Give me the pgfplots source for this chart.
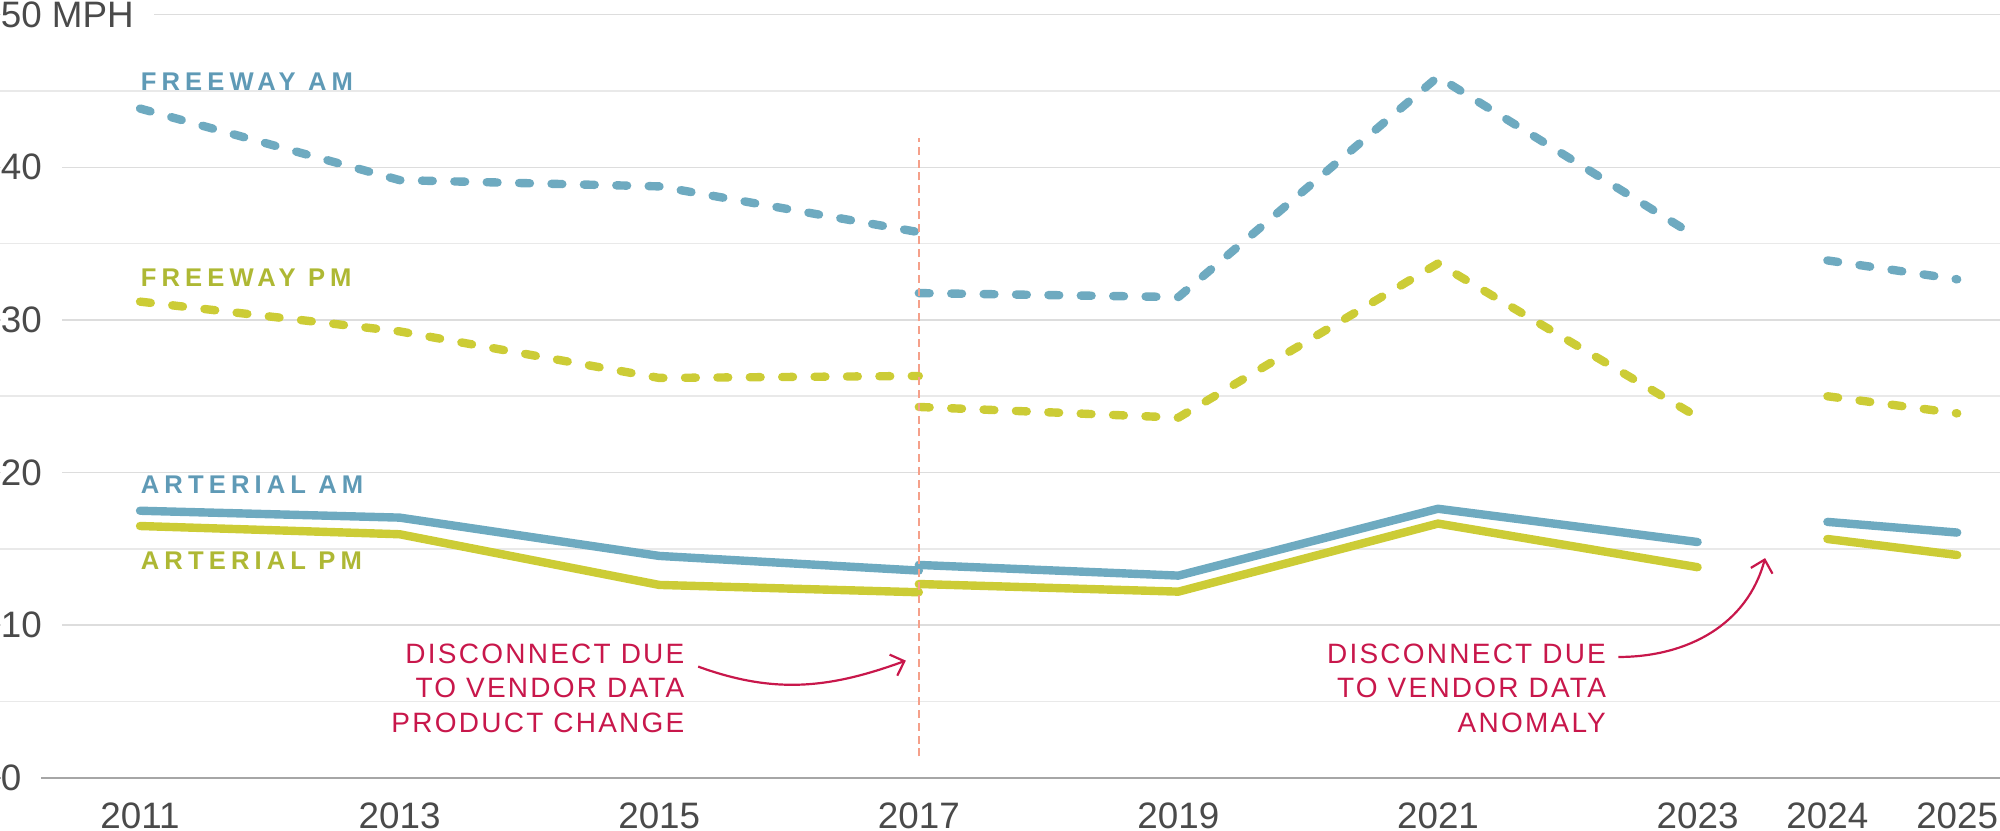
\documentclass[border=0pt]{standalone}
\usepackage{fontspec}
\setmainfont{Liberation Sans}
\newfontfamily\lblfont[LetterSpace=20]{Liberation Sans}
\newfontfamily\annfont[LetterSpace=8]{Liberation Sans}
\usepackage{pgfplots}
\pgfplotsset{compat=1.18}
\usetikzlibrary{arrows.meta}

\definecolor{lblue}{HTML}{6EAAC0}
\definecolor{lgreen}{HTML}{CCCC36}
\definecolor{tblue}{HTML}{5F9AB6}
\definecolor{tgreen}{HTML}{AEB834}
\definecolor{annred}{HTML}{C8174B}
\definecolor{vsalmon}{HTML}{F5A08A}
\definecolor{ticktext}{HTML}{4A4A4A}
\definecolor{gridmajor}{HTML}{DDDDDD}
\definecolor{gridminor}{HTML}{E9E9E9}
\definecolor{axisgray}{HTML}{A6A6A6}

\begin{document}
\begin{tikzpicture}
\begin{axis}[
    name=ax,
    scale only axis,
    width=500pt, height=190.8pt,
    xmin=2009.921, xmax=2025.33,
    ymin=0, ymax=50,
    clip=false,
    axis line style={draw=none},
    tick style={draw=none},
    xtick={2011,2013,2015,2017,2019,2021,2023,2024,2025},
    xticklabels={2011,2013,2015,2017,2019,2021,2023,2024,2025},
    ytick={10,20,30,40,50},
    yticklabels={10\hspace*{5pt},20\hspace*{5pt},30\hspace*{5pt},40\hspace*{5pt},50 MPH\hspace*{5pt}},
    extra y ticks={0},
    extra y tick labels={0\hspace*{5pt}},
    extra y tick style={grid=major, major grid style={draw=axisgray, line width=0.5pt}},
    minor ytick={5,15,25,35,45},
    ymajorgrids, yminorgrids,
    major grid style={draw=gridmajor, line width=0.4pt},
    minor grid style={draw=gridminor, line width=0.4pt},
    ticklabel style={font=\fontsize{9.2}{11}\selectfont, text=ticktext},
    yticklabel style={anchor=west, inner xsep=0pt, inner ysep=1.5pt, fill=white},
    xticklabel style={yshift=-2.6pt},
    every axis plot/.append style={line cap=round, line join=round, unbounded coords=jump},
]
% freeway, dashed
\addplot[lblue, line width=2.1pt, dash pattern=on 2.7pt off 5.4pt] coordinates {
    (2011,43.85) (2013,39.16) (2015,38.75) (2017,35.75) (2017,nan)
    (2017,31.76) (2019,31.5) (2021,45.93) (2023,35.4) (2023,nan)
    (2024,33.9) (2025,32.66)};
\addplot[lgreen, line width=2.1pt, dash pattern=on 2.7pt off 5.4pt] coordinates {
    (2011,31.2) (2013,29.25) (2015,26.2) (2017,26.33) (2017,nan)
    (2017,24.3) (2019,23.6) (2021,33.7) (2023,23.64) (2023,nan)
    (2024,25.0) (2025,23.88)};
% arterial, solid
\addplot[lgreen, line width=2.1pt] coordinates {
    (2011,16.5) (2013,15.96) (2015,12.64) (2017,12.16) (2017,nan)
    (2017,12.7) (2019,12.2) (2021,16.66) (2023,13.8) (2023,nan)
    (2024,15.65) (2025,14.6)};
\addplot[lblue, line width=2.1pt] coordinates {
    (2011,17.5) (2013,17.05) (2015,14.54) (2017,13.58) (2017,nan)
    (2017,13.95) (2019,13.25) (2021,17.63) (2023,15.45) (2023,nan)
    (2024,16.77) (2025,16.07)};
% vendor product change marker
\addplot[vsalmon, line width=0.35pt, dash pattern=on 2pt off 1.2pt, line cap=butt] coordinates {(2017,1.4) (2017,41.9)};

% series labels
\node[anchor=base west, inner sep=0pt, text=tblue, font=\lblfont\bfseries\fontsize{6.4}{7}\selectfont] at (axis cs:2011,45.05) {FREEWAY AM};
\node[anchor=base west, inner sep=0pt, text=tgreen, font=\lblfont\bfseries\fontsize{6.4}{7}\selectfont] at (axis cs:2011,32.2) {FREEWAY PM};
\node[anchor=base west, inner sep=0pt, text=tblue, font=\lblfont\bfseries\fontsize{6.4}{7}\selectfont] at (axis cs:2011,18.64) {ARTERIAL AM};
\node[anchor=base west, inner sep=0pt, text=tgreen, font=\lblfont\bfseries\fontsize{6.4}{7}\selectfont] at (axis cs:2011,13.67) {ARTERIAL PM};

% annotations
\node[anchor=base east, inner sep=0pt, text=annred, font=\annfont\fontsize{7}{8}\selectfont] at (axis cs:2015.2,7.51) {DISCONNECT DUE};
\node[anchor=base east, inner sep=0pt, text=annred, font=\annfont\fontsize{7}{8}\selectfont] at (axis cs:2015.2,5.24) {TO VENDOR DATA};
\node[anchor=base east, inner sep=0pt, text=annred, font=\annfont\fontsize{7}{8}\selectfont] at (axis cs:2015.2,2.95) {PRODUCT CHANGE};
\node[anchor=base east, inner sep=0pt, text=annred, font=\annfont\fontsize{7}{8}\selectfont] at (axis cs:2022.3,7.51) {DISCONNECT DUE};
\node[anchor=base east, inner sep=0pt, text=annred, font=\annfont\fontsize{7}{8}\selectfont] at (axis cs:2022.3,5.24) {TO VENDOR DATA};
\node[anchor=base east, inner sep=0pt, text=annred, font=\annfont\fontsize{7}{8}\selectfont] at (axis cs:2022.3,2.95) {ANOMALY};

\draw[annred, line width=0.55pt, -{Straight Barb[length=2.9pt,width=5.6pt]}]
    (axis cs:2015.30,7.29) to[out=-20, in=200] (axis cs:2016.90,7.68);
\draw[annred, line width=0.55pt, -{Straight Barb[length=2.9pt,width=5.6pt]}]
    (axis cs:2022.39,7.92) to[out=0, in=-105] (axis cs:2023.52,14.40);
\end{axis}
\pgfresetboundingbox
\path[use as bounding box] ([yshift=-13.25pt]ax.south west) rectangle ([yshift=3.675pt]ax.north east);
\end{tikzpicture}
\end{document}
